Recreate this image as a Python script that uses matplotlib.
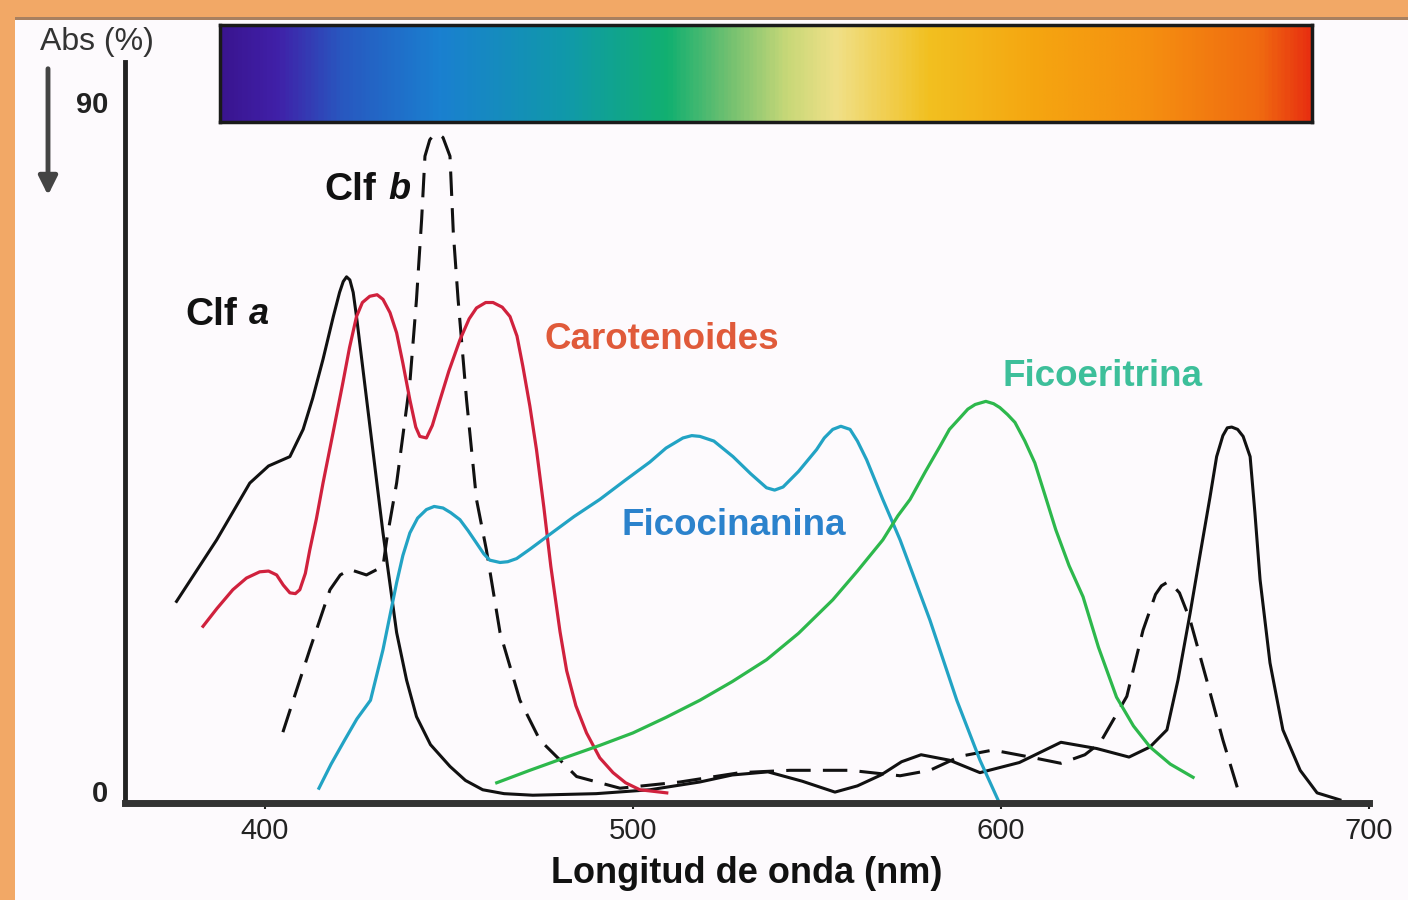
import numpy as np
import matplotlib
matplotlib.use("Agg")
from matplotlib import pyplot as plt
from matplotlib.colors import LinearSegmentedColormap
from matplotlib.patches import Rectangle
from matplotlib.transforms import ScaledTranslation

plt.rcParams['font.family'] = ['Liberation Sans', 'DejaVu Sans']

# absorption spectra (wavelength nm, Abs %)
clfa_wl = [376.0, 386.9, 395.9, 401.0, 406.8, 410.4, 413.0, 415.8, 418.6, 420.3,
           421.3, 422.2, 423.1, 424.0, 424.9, 428.0, 432.1, 435.8, 438.5, 441.2,
           445.0, 450.3, 454.5, 459.2, 465.0, 472.8, 490.0, 504.6, 518.2, 527.0,
           536.7, 546.0, 554.9, 561.0, 567.4, 573.0, 578.3, 586.0, 594.3, 605.0,
           616.3, 626.0, 634.8, 640.5, 645.1, 648.1, 651.4, 654.1, 656.8, 658.6,
           660.3, 661.5, 662.7, 664.3, 665.8, 667.7, 669.0, 670.4, 673.1, 676.6,
           681.3, 685.9, 692.1]
clfa_abs = [25.9, 33.8, 41.1, 43.3, 44.5, 48.0, 52.0, 57.0, 62.5, 65.6,
            67.0, 67.6, 67.2, 65.6, 62.5, 50.5, 34.7, 21.9, 15.8, 11.1,
            7.5, 4.7, 2.9, 1.7, 1.2, 1.0, 1.2, 1.7, 2.7, 3.6,
            4.0, 2.8, 1.4, 2.2, 3.6, 5.3, 6.2, 5.5, 3.9, 5.2,
            7.8, 7.0, 5.9, 7.2, 9.4, 15.8, 24.4, 31.9, 39.3, 44.5,
            47.2, 48.2, 48.3, 48.0, 47.1, 44.5, 37.3, 28.7, 18.0, 9.4,
            4.2, 1.3, 0.4]

clfb_wl = [404.9, 407.3, 412.2, 417.7, 420.5, 423.1, 427.6, 432.1, 433.1, 435.8,
           439.4, 441.2, 442.6, 443.5, 444.8, 445.8, 446.7, 447.6, 448.4, 450.3,
           451.2, 452.5, 454.8, 457.5, 460.2, 463.9, 469.3, 474.7, 484.7, 496.5,
           512.8, 529.1, 542.7, 559.0, 572.6, 580.7, 588.9, 597.8, 607.9, 616.3,
           622.8, 626.9, 634.2, 638.6, 642.0, 643.6, 645.0, 646.6, 648.5, 651.4,
           655.9, 660.3, 664.4]
clfb_abs = [9.1, 12.6, 19.7, 27.4, 29.3, 30.0, 29.3, 30.4, 33.8, 41.1,
            54.0, 64.7, 75.0, 83.1, 85.2, 85.8, 85.9, 85.8, 85.5, 83.1,
            73.3, 64.7, 51.8, 39.0, 32.5, 21.9, 13.2, 8.1, 3.4, 1.9,
            2.7, 3.9, 4.2, 4.2, 3.5, 4.2, 6.0, 6.8, 5.9, 5.1,
            6.2, 7.7, 13.7, 22.2, 26.8, 27.9, 28.3, 28.0, 27.0, 23.5,
            15.8, 8.1, 1.7]

carot_wl = [383.2, 387.0, 391.3, 395.0, 398.6, 401.0, 403.2, 405.0, 406.8, 408.3,
            409.5, 411.0, 412.2, 414.0, 415.8, 418.5, 421.2, 423.0, 424.9, 426.5,
            428.5, 430.5, 432.1, 434.0, 435.8, 437.5, 439.4, 441.0, 442.1, 443.9,
            445.5, 447.6, 450.0, 453.0, 455.5, 457.5, 460.0, 462.0, 464.5, 466.6,
            468.5, 470.1, 472.0, 473.8, 475.8, 477.7, 480.2, 482.0, 484.5, 487.4,
            491.0, 494.6, 498.0, 501.9, 509.2]
carot_abs = [22.7, 25.0, 27.4, 28.9, 29.7, 29.8, 29.3, 28.0, 27.0, 26.9,
             27.4, 29.5, 32.5, 36.5, 41.1, 47.5, 54.0, 58.5, 62.5, 64.3,
             65.1, 65.3, 64.7, 63.0, 60.4, 56.5, 51.8, 48.3, 47.1, 46.9,
             48.5, 51.8, 55.5, 59.5, 62.2, 63.6, 64.3, 64.3, 63.7, 62.5,
             60.0, 56.1, 51.0, 45.4, 38.0, 30.4, 22.0, 17.0, 12.5, 9.0,
             5.8, 3.9, 2.6, 1.7, 1.3]

ficocian_wl = [414.7, 418.0, 421.7, 425.0, 428.7, 432.1, 435.8, 437.5, 439.4, 441.5,
               443.9, 446.0, 448.4, 450.5, 453.0, 455.2, 457.5, 459.5, 461.1, 463.9,
               466.0, 468.4, 472.0, 477.4, 484.0, 491.0, 498.0, 504.6, 509.0, 513.6,
               516.0, 518.2, 522.0, 527.2, 532.0, 536.3, 538.5, 540.8, 545.0, 549.9,
               552.0, 554.3, 556.5, 559.0, 561.0, 563.5, 567.9, 572.6, 580.7, 588.0,
               594.3, 599.2]
ficocian_abs = [1.9, 5.0, 8.1, 10.8, 13.2, 19.7, 28.3, 31.8, 34.7, 36.6,
                37.7, 38.1, 37.9, 37.3, 36.4, 35.0, 33.4, 32.0, 31.2, 30.9,
                31.0, 31.4, 32.6, 34.5, 36.8, 39.0, 41.5, 43.8, 45.6, 46.9,
                47.2, 47.1, 46.5, 44.5, 42.3, 40.5, 40.2, 40.6, 42.6, 45.4,
                46.9, 48.0, 48.4, 48.0, 46.5, 44.1, 39.0, 33.8, 23.5, 13.2,
                5.5, 0.4]

ficoer_wl = [463.0, 472.0, 482.0, 491.0, 500.0, 509.0, 518.2, 527.0, 536.3, 545.0,
             554.3, 561.0, 567.9, 572.0, 575.3, 579.5, 583.4, 586.0, 588.9, 591.0,
             593.0, 595.9, 598.0, 599.7, 601.8, 603.8, 606.5, 609.2, 612.0, 614.9,
             618.5, 622.3, 626.5, 631.4, 636.0, 640.5, 646.0, 652.2]
ficoer_abs = [2.6, 4.2, 5.9, 7.4, 9.0, 11.0, 13.2, 15.6, 18.4, 21.8,
              26.1, 29.8, 33.8, 36.9, 39.0, 42.6, 45.8, 48.0, 49.5, 50.6,
              51.2, 51.6, 51.3, 50.8, 49.9, 48.9, 46.5, 43.7, 39.5, 35.1,
              30.5, 26.5, 20.0, 13.6, 9.9, 7.2, 5.0, 3.3]

# visible spectrum strip colours (position along strip, colour)
spec_pos = [0.0, 0.05, 0.11, 0.20, 0.32, 0.41, 0.465, 0.52, 0.565, 0.65, 0.75, 0.85, 0.955, 1.0]
spec_col = ['#3a1590', '#4020a8', '#2858c0', '#1a80d0', '#109aa8', '#12b070', '#70c070',
            '#c8d878', '#f0e088', '#f2c020', '#f5a510', '#f59010', '#f06a10', '#e83010']

xticks = [400, 500, 600, 700]

W, H = 1408, 900
fig = plt.figure(figsize=(W / 100, H / 100), dpi=100, facecolor='#f2a866')
# white panel inside the orange frame
fig.add_artist(Rectangle((15 / W, 0), 1 - 15 / W, 1 - 20 / H, transform=fig.transFigure,
                         facecolor='#fdfafd', edgecolor='none', zorder=0))
fig.add_artist(Rectangle((15 / W, 1 - 20 / H), 1 - 15 / W, 3 / H, transform=fig.transFigure,
                         facecolor='#a88060', edgecolor='none', zorder=0))

ax = fig.add_axes([125 / W, 1 - 803 / H, 1244 / W, 741 / H])
ax.set_facecolor('none')

ax.plot(clfa_wl, clfa_abs, color='#111111', lw=2.2)
ax.plot(clfb_wl, clfb_abs, color='#111111', lw=2.2, dashes=[8, 4])
ax.plot(carot_wl, carot_abs, color='#d0213d', lw=2.3)
ax.plot(ficocian_wl, ficocian_abs, color='#22a3c4', lw=2.3)
ax.plot(ficoer_wl, ficoer_abs, color='#2db84c', lw=2.3)

ax.set_xlim(362, 700)
ax.set_ylim(0, 95.2)
ax.spines['top'].set_visible(False)
ax.spines['right'].set_visible(False)
ax.spines['left'].set_linewidth(3.5)
ax.spines['left'].set_color('#222222')
ax.spines['bottom'].set_linewidth(5)
ax.spines['bottom'].set_color('#333333')

ax.set_xticks(xticks)
ax.set_xticklabels([str(t) for t in xticks])
ax.tick_params(axis='x', length=4, width=1.5, pad=6, labelsize=21, colors='#222222')
ax.set_yticks([0, 90])
ax.set_yticklabels(['0', '90'])
ax.tick_params(axis='y', length=0, pad=12, labelsize=21, colors='#222222')
for lab in ax.get_yticklabels():
    lab.set_fontweight('bold')
# the "0" sits a little above the axis line in the original
zero = ax.get_yticklabels()[0]
zero.set_transform(zero.get_transform() + ScaledTranslation(0, 12 / 100, fig.dpi_scale_trans))
ax.set_xlabel('Longitud de onda (nm)', fontsize=26, fontweight='bold', labelpad=8, color='#111111')

# curve labels
ax.text(378.3, 62.7, 'Clf', fontsize=28, fontweight='bold', va='center', color='#111111')
ax.text(395.6, 62.7, 'a', fontsize=26, fontweight='bold', style='italic', va='center', color='#111111')
ax.text(416.3, 78.8, 'Clf', fontsize=28, fontweight='bold', va='center', color='#111111')
ax.text(433.6, 78.8, 'b', fontsize=26, fontweight='bold', style='italic', va='center', color='#111111')
ax.text(476.1, 59.5, 'Carotenoides', fontsize=26.5, fontweight='bold', va='center', color='#e05a3a')
ax.text(600.5, 54.8, 'Ficoeritrina', fontsize=26.5, fontweight='bold', va='center', color='#3dbf9a')
ax.text(497.0, 35.7, 'Ficocinanina', fontsize=26.5, fontweight='bold', va='center', color='#2b82cc')

# y axis title and arrow
fig.text(40 / W, 1 - 42 / H, 'Abs (%)', fontsize=23, va='center', ha='left', color='#333333')
ax.annotate('', xy=(48 / W, 1 - 198 / H), xytext=(48 / W, 1 - 66 / H),
            xycoords='figure fraction', textcoords='figure fraction',
            arrowprops=dict(arrowstyle='-|>', color='#444444', lw=3.5, mutation_scale=28))

# spectrum strip
cmap = LinearSegmentedColormap.from_list('spec', list(zip(spec_pos, spec_col)))
axs = fig.add_axes([220 / W, 1 - 122 / H, 1092 / W, 97 / H])
axs.imshow(np.linspace(0, 1, 600)[None, :], aspect='auto', cmap=cmap)
axs.set_xticks([])
axs.set_yticks([])
for sp in axs.spines.values():
    sp.set_linewidth(2.5)
    sp.set_color('#1a1a1a')

fig.savefig('out.png', dpi=100, facecolor=fig.get_facecolor())
plt.close()
